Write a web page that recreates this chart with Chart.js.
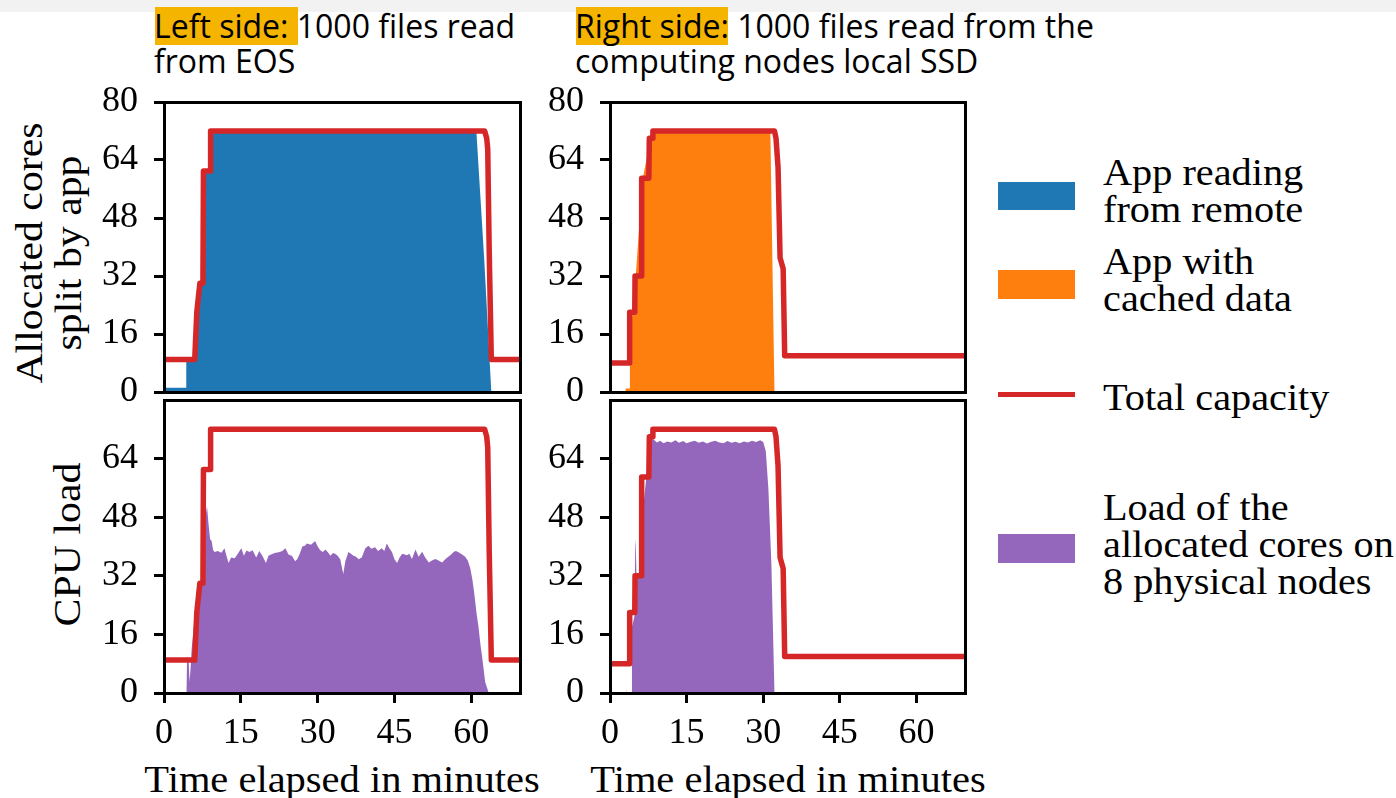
<!DOCTYPE html>
<html>
<head>
<meta charset="utf-8">
<script src="https://cdn.jsdelivr.net/npm/chart.js@4.4.1/dist/chart.umd.min.js"></script>
<style>
  body { margin: 0; width: 1396px; height: 798px; background: #fff; position: relative; overflow: hidden;
         font-family: 'Liberation Serif', serif; color: #000; }
  .topbar { position: absolute; left: 0; top: 0; width: 1396px; height: 12px; background: #f2f2f2; }
  .hl { position: absolute; top: 7px; height: 38px; background: #f4b400; }
  .title { position: absolute; top: 7.6px; font-family: 'Open Sans', sans-serif; font-size: 32px; line-height: 35px; white-space: nowrap; }
  canvas { position: absolute; }
  .ylab { position: absolute; transform: rotate(-90deg) scaleX(1.1); text-align: center; font-size: 38px; line-height: 39px; white-space: nowrap; }
  .xlab { position: absolute; top: 759px; width: 400px; text-align: center; font-size: 38px; line-height: 40px; white-space: nowrap;
          transform: scaleX(1.065); }
  .swatch { position: absolute; left: 998px; width: 77px; }
  .leg { position: absolute; left: 1103px; font-size: 38px; line-height: 37px; white-space: nowrap;
         transform: scaleX(1.06); transform-origin: 0 0; }
</style>
</head>
<body>
<div class="topbar"></div>
<div class="hl" style="left:155px;width:143px"></div>
<div class="hl" style="left:576px;width:152px"></div>
<div class="title" style="left:154px">Left side: 1000 files read<br>from EOS</div>
<div class="title" style="left:575px">Right side: 1000 files read from the<br>computing nodes local SSD</div>

<div class="ylab" style="left:-111px;top:214px;width:320px;height:78px">Allocated cores<br>split by app</div>
<div class="ylab" style="left:-83px;top:525px;width:300px;height:39px">CPU load</div>
<div class="xlab" style="left:142px">Time elapsed in minutes</div>
<div class="xlab" style="left:587.5px">Time elapsed in minutes</div>

<canvas id="tl" width="448" height="358" style="left:80px;top:68px"></canvas>
<canvas id="bl" width="448" height="432" style="left:80px;top:366px"></canvas>
<canvas id="tr" width="447" height="358" style="left:526px;top:68px"></canvas>
<canvas id="br" width="447" height="432" style="left:526px;top:366px"></canvas>

<div class="swatch" style="top:182px;height:28px;background:#1f77b4"></div>
<div class="leg" style="top:154px">App reading<br>from remote</div>
<div class="swatch" style="top:270px;height:29px;background:#ff7f0e"></div>
<div class="leg" style="top:242.5px">App with<br>cached data</div>
<div class="swatch" style="top:392px;height:5px;background:#d62728"></div>
<div class="leg" style="top:379px">Total capacity</div>
<div class="swatch" style="top:534px;height:29px;background:#9467bd"></div>
<div class="leg" style="top:488.5px">Load of the<br>allocated cores on<br>8 physical nodes</div>

<script>
// ticks
const xTickValues = [0, 15, 30, 45, 60];
const yTickValues = [0, 16, 32, 48, 64, 80];

// left side: files read from EOS (minutes, cores)
const timeCapL = [0, 6.0, 6.4, 7.0, 7.6, 7.7, 9.0, 9.1, 62.6, 63.0, 63.2, 63.5, 63.9, 69.5];
const capL =     [9, 9,   22,  30,  30,  61,  61,  72,  72,   70,   67,   38,   9,    9];

const timeBlueL = [0,   4.3, 4.35, 6.0, 6.6, 7.4, 7.7, 8.6, 9.2,  61.0, 62.5, 63.9, 69.5];
const blueL =     [1.2, 1.2, 8.5,  9,   27,  29,  58,  62,  71.5, 71.5, 37,   0,    0];

const timeCpuL = [0, 4.4, 4.5, 4.8, 5.0, 5.2, 5.4, 5.8, 6.4, 6.9, 7.3, 7.6, 8.0, 8.4, 8.7, 9.0, 9.3, 9.6, 9.9,
  10.5, 11.2, 11.8, 12.2, 12.6, 13.1, 13.8, 14.4, 15.1, 15.6, 16.1, 16.7, 17.3, 18.0, 18.6, 19.2, 19.9,
  20.4, 20.9, 21.6, 22.4, 23.1, 23.7, 24.3, 25.0, 25.6, 26.0, 26.5, 27.0, 27.5, 27.9, 28.7, 29.5,
  30.0, 30.5, 31.0, 31.5, 32.0, 32.5, 33.0, 33.4, 33.9, 34.4, 35.0, 35.4, 36.0, 36.5, 37.0, 37.5,
  38.0, 38.6, 39.3, 39.9, 40.5, 41.2, 41.8, 42.5, 43.0, 43.5, 44.0, 44.5, 45.0, 45.5, 46.0, 46.5,
  47.0, 47.4, 47.9, 48.4, 49.1, 49.7, 50.4, 51.0, 51.7, 52.3, 53.0, 53.6, 54.3, 54.8, 55.3, 55.9,
  56.6, 57.0, 57.5, 58.2, 58.8, 59.3, 59.8, 60.2, 60.5, 61.0, 61.4, 61.8, 62.1, 62.7, 63.4, 69.5];
const cpuL = [0, 0, 10, 9, 3, 7, 12, 18, 22, 25, 30, 36, 47, 51, 46, 42, 41.5, 39, 38.5,
  38.8, 38.3, 39.5, 37.5, 35.5, 37, 36.8, 38, 39.5, 37.5, 38.9, 38.5, 39, 37, 38.8, 37.5, 35.5,
  37.5, 37.8, 38.2, 38.4, 38.8, 39.5, 37.8, 37.4, 36, 36.5, 38, 40, 40.2, 40.8, 40.5, 41.5,
  40, 39, 38.5, 39.2, 38.4, 37.5, 38.2, 38, 37.5, 36.5, 32.5, 36, 38.5, 38, 37.5, 37.2,
  36.5, 37, 39.5, 40.2, 39.4, 39.8, 38.8, 39.5, 38.8, 40.8, 39.5, 38.5, 36.5, 35.5, 37, 38,
  37.8, 37.6, 38, 36.6, 39.2, 37.2, 38.6, 37, 35.6, 36.2, 36.6, 36.2, 35.6, 36.4, 37, 37.6,
  38.6, 38.8, 38.4, 37.8, 37.2, 36.2, 34, 31, 28, 22, 18, 13, 10, 3, 0, 0];

// right side: files read from the local SSD
const timeCapR = [0, 3.8, 3.85, 4.85, 4.9, 6.15, 6.2, 7.6, 7.7, 8.3, 8.4, 32.2, 32.5, 32.9, 33.3, 33.9, 34.2, 69.5];
const capR =     [8, 8,   22,   22,   32,  32,   59,  59,  70,  70,  72,  72,   70,   62,   37,   34,   10,   10];

const timeOrangeR = [0, 3.0, 3.05, 3.8, 3.9, 4.3, 5.0, 6.3, 7.8, 8.6,  31.4, 32.2, 69.5];
const orangeR =     [0, 0,   1,    1,   8,   20,  31,  58,  69,  71.5, 71.5, 0,    0];

const timeCpuR = [0, 3.05, 3.13, 3.2, 4.2, 4.3, 4.8, 4.95, 5.05, 5.2, 5.6, 6.0, 6.6, 7.2, 7.8, 8.3, 8.7,
  9.2, 9.8, 10.5, 11.2, 12.0, 12.8, 13.5, 14.3, 15.0, 15.8, 16.6, 17.4, 18.2, 19.0, 19.8, 20.6,
  21.4, 22.2, 23.0, 23.8, 24.6, 25.4, 26.2, 27.0, 27.8, 28.6, 29.4, 30.0, 30.5, 31.0, 31.6, 32.2, 69.5];
const cpuR = [0, 0, 1.5, 0, 0, 18, 21, 42, 40, 31, 32, 40, 52, 60, 66, 69.5, 69,
  68.4, 68.9, 68.2, 68.7, 68.4, 69.0, 68.3, 68.8, 68.2, 68.6, 68.9, 68.3, 68.7, 68.1, 68.6, 68.9,
  68.4, 68.2, 68.8, 68.3, 68.6, 68.2, 68.7, 68.4, 68.9, 68.5, 69.0, 68.5, 66, 56, 35, 0, 0];

Chart.defaults.font.family = "'Liberation Serif', serif";
Chart.defaults.font.size = 36;
Chart.defaults.font.lineHeight = 1;
Chart.defaults.color = '#000';

function pts(t, v) {
  return t.map((x, i) => ({x: x, y: v[i]}));
}

function area(t, v, color) {
  return {data: pts(t, v), fill: 'origin', backgroundColor: color, borderWidth: 0,
          pointRadius: 0, tension: 0, xAxisID: 'x', yAxisID: 'y'};
}

function capLine(t, v) {
  return {data: pts(t, v), fill: false, borderColor: '#d62728', borderWidth: 5.5, borderJoinStyle: 'round',
          pointRadius: 0, tension: 0, xAxisID: 'x', yAxisID: 'y'};
}

function panel(id, datasets, bottom) {
  const yt = bottom ? yTickValues.slice(0, -1) : yTickValues;
  const frame = {display: true, width: 3, color: '#000', z: 1};
  return new Chart(document.getElementById(id), {
    type: 'line',
    data: {datasets: datasets},
    options: {
      responsive: false,
      animation: false,
      events: [],
      plugins: {legend: {display: false}, tooltip: {enabled: false}},
      layout: {padding: {top: 30, right: 8, bottom: bottom ? 0 : 30, left: 0}},
      scales: {
        x: {
          type: 'linear', position: 'bottom', min: 0, max: 69.5,
          afterBuildTicks: s => { s.ticks = xTickValues.map(v => ({value: v})); },
          ticks: {display: bottom, padding: 13, maxRotation: 0},
          grid: {display: bottom, drawOnChartArea: false, tickLength: 10, lineWidth: 3, color: '#000', z: 1},
          border: frame,
          afterFit: s => { s.height = bottom ? 105 : 0; }
        },
        y: {
          type: 'linear', position: 'left', min: 0, max: 80,
          afterBuildTicks: s => { s.ticks = yt.map(v => ({value: v})); },
          ticks: {padding: 16},
          grid: {drawOnChartArea: false, tickLength: 10, lineWidth: 3, color: '#000', z: 1},
          border: frame,
          afterFit: s => { s.width = 84; }
        },
        xTop: {
          type: 'linear', position: 'top', min: 0, max: 69.5,
          ticks: {display: false}, grid: {display: false, drawTicks: false}, border: frame,
          afterFit: s => { s.height = 0; }
        },
        yRight: {
          type: 'linear', position: 'right', min: 0, max: 80,
          ticks: {display: false}, grid: {display: false, drawTicks: false}, border: frame,
          afterFit: s => { s.width = 0; }
        }
      }
    }
  });
}

panel('tl', [capLine(timeCapL, capL), area(timeBlueL, blueL, '#1f77b4')], false);
panel('bl', [capLine(timeCapL, capL), area(timeCpuL, cpuL, '#9467bd')], true);
panel('tr', [capLine(timeCapR, capR), area(timeOrangeR, orangeR, '#ff7f0e')], false);
panel('br', [capLine(timeCapR, capR), area(timeCpuR, cpuR, '#9467bd')], true);
</script>
</body>
</html>
